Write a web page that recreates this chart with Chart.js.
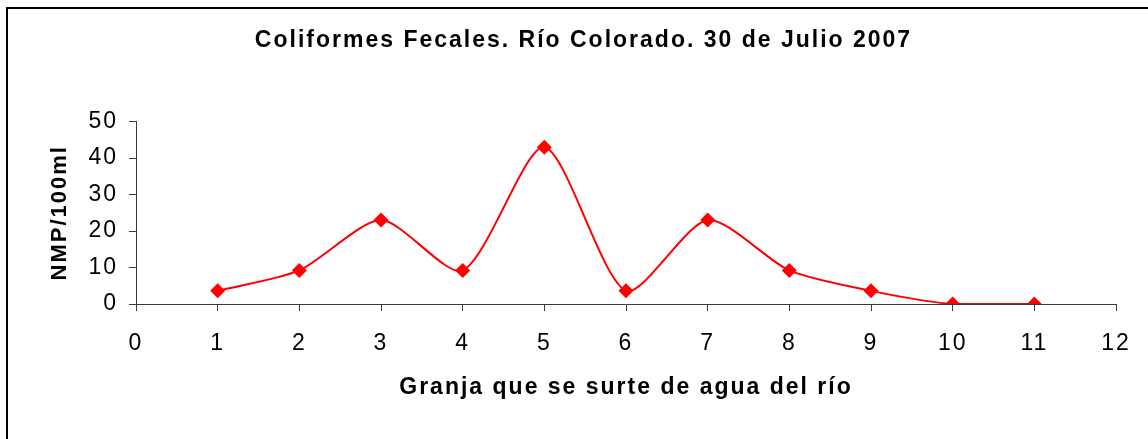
<!DOCTYPE html>
<html>
<head>
<meta charset="utf-8">
<script src="https://cdn.jsdelivr.net/npm/chart.js@4/dist/chart.umd.min.js"></script>
<style>
  html, body { margin: 0; padding: 0; background: #fff; overflow: hidden; }
  #frame {
    position: absolute; left: 6px; top: 7px;
    width: 1300px; height: 600px;
    border: 2px solid #000; box-sizing: border-box;
  }
  #wrap { position: absolute; left: 0; top: 0; width: 1148px; height: 439px; }
</style>
</head>
<body>
<div id="frame"></div>
<div id="wrap"><canvas id="chart" width="1148" height="439"></canvas></div>
<script>
// ============================================
// DATA
// ============================================
const granjas = [1, 2, 3, 4, 5, 6, 7, 8, 9, 10, 11];
const nmpValues = [3.6, 9.2, 23, 9.2, 43, 3.6, 23, 9.2, 3.6, 0, 0];
const xTicks = [0, 1, 2, 3, 4, 5, 6, 7, 8, 9, 10, 11, 12];
const yTicks = [0, 10, 20, 30, 40, 50];

const FONT = "'Liberation Sans', Arial, sans-serif";
const AXIS_COLOR = '#3a3a3a';

// the original text is drawn widely spaced (old Excel export)
const wideText = {
  id: 'wideText',
  beforeDraw(chart) {
    chart.ctx.letterSpacing = '2px';
  }
};

// ============================================
// CHART
// ============================================
function initChart() {
  const ctx = document.getElementById('chart');

  const points = granjas.map((g, i) => ({ x: g, y: nmpValues[i] }));

  new Chart(ctx, {
    type: 'scatter',
    data: {
      datasets: [{
        label: 'Coliformes Fecales',
        data: points,
        showLine: true,
        borderColor: '#FF0000',
        backgroundColor: '#FF0000',
        borderWidth: 2,
        tension: 0.25,
        pointStyle: 'rectRot',
        pointRadius: 7.5,
        pointBorderWidth: 0,
        pointHoverRadius: 7.5
      }]
    },
    options: {
      responsive: false,
      animation: false,
      devicePixelRatio: 1,
      // left/right padding chosen so the title centres on the outer frame
      layout: {
        padding: { left: 51, top: 0, right: 32, bottom: 0 }
      },
      plugins: {
        legend: { display: false },
        tooltip: { enabled: false },
        title: {
          display: true,
          text: 'Coliformes Fecales. Río Colorado. 30 de Julio 2007',
          color: '#000',
          font: { family: FONT, size: 23, weight: 'bold', lineHeight: 1.2 },
          padding: { top: 27, bottom: 67 }
        }
      },
      scales: {
        x: {
          type: 'linear',
          min: xTicks[0],
          max: xTicks[xTicks.length - 1],
          afterBuildTicks: (scale) => {
            scale.ticks = xTicks.map(v => ({ value: v }));
          },
          afterFit: (scale) => { scale.height = 135; },
          grid: {
            display: true,
            drawOnChartArea: false,
            drawTicks: true,
            tickLength: 7,
            color: AXIS_COLOR,
            lineWidth: 1
          },
          border: { display: true, color: AXIS_COLOR, width: 1 },
          ticks: {
            color: '#000',
            padding: 19,
            font: { family: FONT, size: 23 }
          },
          title: {
            display: true,
            text: 'Granja que se surte de agua del río',
            color: '#000',
            font: { family: FONT, size: 23, weight: 'bold', lineHeight: 1.2 },
            padding: { top: 0, bottom: 38 }
          }
        },
        y: {
          type: 'linear',
          min: yTicks[0],
          max: yTicks[yTicks.length - 1],
          afterBuildTicks: (scale) => {
            scale.ticks = yTicks.map(v => ({ value: v }));
          },
          afterFit: (scale) => { scale.width = 85; },
          grid: {
            display: true,
            drawOnChartArea: false,
            drawTicks: true,
            tickLength: 7,
            color: AXIS_COLOR,
            lineWidth: 1
          },
          border: { display: true, color: AXIS_COLOR, width: 1 },
          ticks: {
            color: '#000',
            padding: 11,
            font: { family: FONT, size: 23 }
          },
          title: {
            display: true,
            text: 'NMP/100ml',
            color: '#000',
            font: { family: FONT, size: 22, weight: 'bold', lineHeight: 1.2 },
            padding: { top: -4, bottom: 0 }
          }
        }
      }
    },
    plugins: [wideText]
  });
}

initChart();
</script>
</body>
</html>
